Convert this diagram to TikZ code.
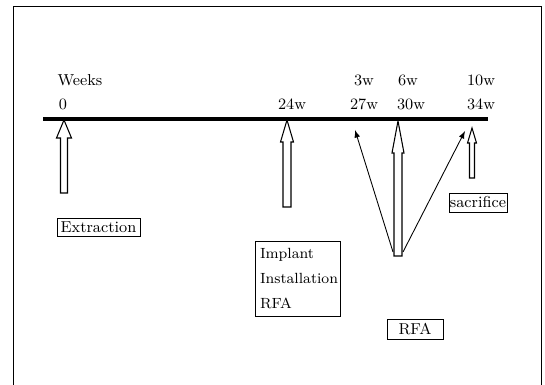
\documentclass[tikz,border=0pt]{standalone}
\usepackage{tikz}
\usepackage{amsmath}

\newcommand{\blockarrow}[6]{% x, tip, head base, bottom, half head, half shaft
  \draw[arrowline] (#1,#2) -- (#1+#5,#3) -- (#1+#6,#3) -- (#1+#6,#4)
     -- (#1-#6,#4) -- (#1-#6,#3) -- (#1-#5,#3) -- cycle;}

\begin{document}
\begin{tikzpicture}[x=0.02cm,y=-0.02cm,
    label/.style ={font=\fontsize{9}{11}\selectfont, inner sep=0pt},
    stage/.style ={draw, line width=0.5pt, inner sep=0pt, font=\fontsize{9}{11}\selectfont},
    arrowline/.style ={line width=0.6pt, fill=white},
    thin/.style ={line width=0.5pt, -latex}]
   \useasboundingbox (0,0) rectangle (545,385);
   \draw[line width=0.5pt] (13,385) -- (13,6) -- (541,6) -- (541,385);
   % time line
   \coordinate (start) at (43,119);
   \coordinate (stop) at (488,119);
   \draw[line width=2.8pt] (start) -- (stop);
   % weeks
   \node[label] (weeks) at (80,80)  {Weeks};
   \node[label] (w0)  at (63,104)  {0};
   \node[label] (w24) at (292,104) {24w};
   \node[label] (w3)  at (364,80)  {3w};
   \node[label] (w27) at (364,104) {27w};
   \node[label] (w6)  at (408,80)  {6w};
   \node[label] (w30) at (411,104) {30w};
   \node[label] (w10) at (481,80)  {10w};
   \node[label] (w34) at (481,104) {34w};
   % block arrows
   \blockarrow{64}{120}{138}{193}{7.5}{3.5}
   \blockarrow{287}{120}{142}{207}{6.5}{4}
   \blockarrow{398}{121}{153}{256}{6}{4}
   \blockarrow{472}{128}{143}{178}{4.5}{2.5}
   % stages
   \node[stage, minimum width=1.66cm, minimum height=0.36cm] (extraction) at (98.5,227) {Extraction};
   \node[stage, minimum width=1.7cm, minimum height=1.5cm, text width=1.5cm, align=left,
         inner xsep=0.1cm, font=\fontsize{8.4}{14.2}\selectfont] (implant) at (297.5,278.5) {Implant\\Installation\\RFA};
   \node[stage, minimum width=1.16cm, minimum height=0.38cm] (sacrifice) at (478,202.5) {sacrifice};
   \node[stage, minimum width=1.12cm, minimum height=0.4cm] (rfa) at (415,329) {RFA};
   % RFA arrows
   \coordinate (fromL) at (393,252);
   \coordinate (fromR) at (403,252);
   \coordinate (toL) at (355,130);
   \coordinate (toR) at (465,131);
   \draw[thin] (fromL) to (toL);
   \draw[thin] (fromR) to (toR);
\end{tikzpicture}
\end{document}
